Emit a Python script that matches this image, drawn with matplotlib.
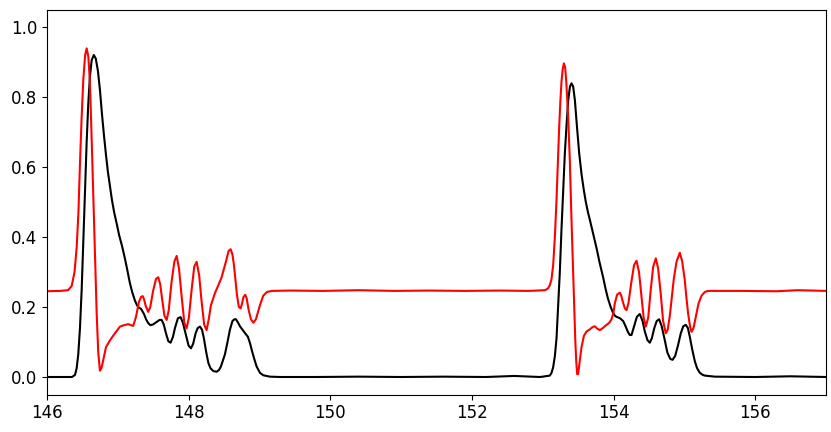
import matplotlib
matplotlib.use("Agg")
import matplotlib.pyplot as plt

# black trace
black_x = [146.0, 146.354, 146.397, 146.42, 146.443, 146.467, 146.491, 146.515, 146.538, 146.561,
           146.584, 146.608, 146.632, 146.662, 146.69, 146.72, 146.749, 146.778, 146.806, 146.834,
           146.862, 146.89, 146.919, 146.95, 146.989, 147.02, 147.06, 147.10, 147.131, 147.17,
           147.201, 147.24, 147.272, 147.30, 147.328, 147.371, 147.40, 147.427, 147.46, 147.498,
           147.554, 147.59, 147.62, 147.65, 147.681, 147.715, 147.747, 147.78, 147.808, 147.85,
           147.888, 147.92, 147.963, 148.00, 148.034, 148.065, 148.10, 148.13, 148.161, 148.19,
           148.217, 148.25, 148.28, 148.31, 148.35, 148.397, 148.43, 148.457, 148.49, 148.514,
           148.55, 148.584, 148.62, 148.65, 148.669, 148.70, 148.725, 148.772, 148.81, 148.838,
           148.87, 148.895, 148.93, 148.961, 149.008, 149.054, 149.149, 149.29,
           149.8, 150.4, 151.0, 151.6, 152.2, 152.6, 152.96,
           153.0, 153.101, 153.125, 153.148, 153.172, 153.195, 153.218, 153.242, 153.265, 153.289,
           153.313, 153.337, 153.36, 153.385, 153.407, 153.43, 153.455, 153.482, 153.515, 153.548,
           153.58, 153.609, 153.64, 153.665, 153.70, 153.735, 153.764, 153.80, 153.853, 153.89,
           153.92, 153.96, 153.994, 154.02, 154.042, 154.09, 154.136, 154.17, 154.205, 154.23,
           154.254, 154.29, 154.33, 154.371, 154.41, 154.442, 154.48, 154.512, 154.54, 154.576,
           154.61, 154.644, 154.68, 154.724, 154.76, 154.80, 154.833, 154.87, 154.91, 154.95,
           154.985, 155.02, 155.05, 155.077, 155.11, 155.148, 155.18, 155.218, 155.26, 155.289,
           155.43, 156.0, 156.5, 157.0]
black_y = [0.0, 0.0, 0.006, 0.025, 0.065, 0.14, 0.25, 0.39, 0.53, 0.67,
           0.78, 0.86, 0.905, 0.92, 0.91, 0.875, 0.82, 0.75, 0.69, 0.635,
           0.585, 0.545, 0.505, 0.47, 0.435, 0.405, 0.375, 0.34, 0.31, 0.27,
           0.245, 0.22, 0.205, 0.198, 0.195, 0.18, 0.165, 0.155, 0.148, 0.15,
           0.158, 0.163, 0.163, 0.15, 0.125, 0.102, 0.098, 0.115, 0.14, 0.168,
           0.171, 0.155, 0.12, 0.09, 0.082, 0.095, 0.125, 0.14, 0.144, 0.135,
           0.11, 0.07, 0.04, 0.025, 0.017, 0.015, 0.02, 0.03, 0.05, 0.065,
           0.1, 0.135, 0.16, 0.165, 0.165, 0.155, 0.145, 0.132, 0.122, 0.115,
           0.095, 0.075, 0.05, 0.03, 0.012, 0.005, 0.001, 0.0,
           0.0, 0.001, 0.0, 0.001, 0.0, 0.003, 0.0,
           0.001, 0.004, 0.012, 0.028, 0.06, 0.11, 0.2, 0.3, 0.42, 0.53,
           0.64, 0.72, 0.79, 0.83, 0.839, 0.83, 0.79, 0.72, 0.64, 0.58,
           0.535, 0.5, 0.47, 0.45, 0.42, 0.39, 0.365, 0.33, 0.285, 0.25,
           0.225, 0.2, 0.183, 0.175, 0.172, 0.168, 0.16, 0.145, 0.128, 0.12,
           0.12, 0.145, 0.172, 0.18, 0.16, 0.13, 0.105, 0.098, 0.11, 0.14,
           0.16, 0.165, 0.145, 0.105, 0.07, 0.052, 0.049, 0.06, 0.09, 0.125,
           0.145, 0.149, 0.14, 0.115, 0.08, 0.045, 0.025, 0.012, 0.006, 0.004,
           0.001, 0.0, 0.002, 0.0]

# red trace
red_x = [146.0, 146.185, 146.30, 146.35, 146.39, 146.421, 146.445, 146.467, 146.49, 146.514,
         146.54, 146.562, 146.585, 146.608, 146.632, 146.655, 146.68, 146.703, 146.725, 146.749,
         146.77, 146.792, 146.834, 146.891, 146.961, 147.032, 147.088, 147.149, 147.187, 147.219,
         147.258, 147.30, 147.33, 147.352, 147.372, 147.392, 147.431, 147.46, 147.498, 147.54,
         147.572, 147.60, 147.625, 147.66, 147.691, 147.72, 147.759, 147.80, 147.832, 147.865,
         147.90, 147.94, 147.973, 148.005, 148.041, 148.08, 148.114, 148.15, 148.182, 148.22,
         148.255, 148.285, 148.316, 148.373, 148.42, 148.467, 148.528, 148.565, 148.594, 148.62,
         148.641, 148.665, 148.683, 148.71, 148.735, 148.755, 148.775, 148.80, 148.82, 148.85,
         148.881, 148.915, 148.951, 149.008, 149.054, 149.107, 149.177, 149.431,
         149.9, 150.4, 150.9, 151.4, 151.9, 152.4, 152.8,
         153.03, 153.07, 153.101, 153.125, 153.148, 153.172, 153.195, 153.215, 153.232, 153.25,
         153.266, 153.283, 153.299, 153.317, 153.334, 153.358, 153.383, 153.405, 153.43, 153.446,
         153.461, 153.475, 153.487, 153.50, 153.517, 153.548, 153.581, 153.619, 153.665, 153.70,
         153.736, 153.77, 153.807, 153.85, 153.901, 153.94, 153.972, 154.0, 154.018, 154.05,
         154.089, 154.11, 154.131, 154.16, 154.184, 154.21, 154.251, 154.29, 154.325, 154.36,
         154.392, 154.425, 154.456, 154.49, 154.526, 154.56, 154.597, 154.63, 154.668, 154.70,
         154.738, 154.765, 154.795, 154.851, 154.89, 154.936, 154.97, 155.006, 155.03, 155.053,
         155.08, 155.101, 155.13, 155.172, 155.20, 155.242, 155.29, 155.335, 155.8, 156.3,
         156.6, 157.0]
red_y = [0.245, 0.246, 0.248, 0.26, 0.30, 0.372, 0.47, 0.61, 0.74, 0.85,
         0.92, 0.939, 0.915, 0.84, 0.68, 0.515, 0.33, 0.18, 0.07, 0.018,
         0.025, 0.045, 0.085, 0.105, 0.125, 0.144, 0.148, 0.151, 0.148, 0.146,
         0.172, 0.215, 0.229, 0.231, 0.222, 0.205, 0.186, 0.20, 0.245, 0.28,
         0.285, 0.265, 0.225, 0.175, 0.163, 0.19, 0.27, 0.33, 0.346, 0.31,
         0.235, 0.155, 0.139, 0.17, 0.245, 0.315, 0.329, 0.29, 0.22, 0.15,
         0.134, 0.165, 0.205, 0.24, 0.262, 0.285, 0.33, 0.36, 0.365, 0.35,
         0.32, 0.27, 0.235, 0.20, 0.196, 0.21, 0.228, 0.235, 0.225, 0.19,
         0.165, 0.155, 0.165, 0.205, 0.232, 0.243, 0.246, 0.247,
         0.246, 0.248, 0.246, 0.247, 0.246, 0.247, 0.246,
         0.248, 0.252, 0.262, 0.28, 0.32, 0.40, 0.506, 0.62, 0.71, 0.79,
         0.845, 0.88, 0.896, 0.885, 0.84, 0.75, 0.62, 0.46, 0.30, 0.19,
         0.10, 0.04, 0.008, 0.008, 0.035, 0.085, 0.117, 0.13, 0.136, 0.142,
         0.145, 0.138, 0.134, 0.14, 0.149, 0.155, 0.165, 0.185, 0.21, 0.235,
         0.241, 0.232, 0.215, 0.196, 0.191, 0.21, 0.27, 0.32, 0.332, 0.30,
         0.235, 0.17, 0.144, 0.17, 0.25, 0.315, 0.339, 0.31, 0.235, 0.16,
         0.125, 0.135, 0.175, 0.28, 0.33, 0.355, 0.33, 0.277, 0.225, 0.182,
         0.145, 0.129, 0.14, 0.182, 0.21, 0.232, 0.243, 0.246, 0.246, 0.245,
         0.248, 0.246]

fig = plt.figure(figsize=(8.31, 4.32), dpi=100)
ax = fig.add_axes([46.9 / 831, 37.5 / 432, 779.1 / 831, 385 / 432])
ax.plot(black_x, black_y, color='black', linewidth=1.5)
ax.plot(red_x, red_y, color='red', linewidth=1.5)
ax.set_xlim(146, 157)
ax.set_ylim(-0.05, 1.05)
ax.set_xticks([146, 148, 150, 152, 154, 156])
ax.set_yticks([0.0, 0.2, 0.4, 0.6, 0.8, 1.0])
ax.tick_params(labelsize=12)
fig.savefig('out.png', dpi=100)
